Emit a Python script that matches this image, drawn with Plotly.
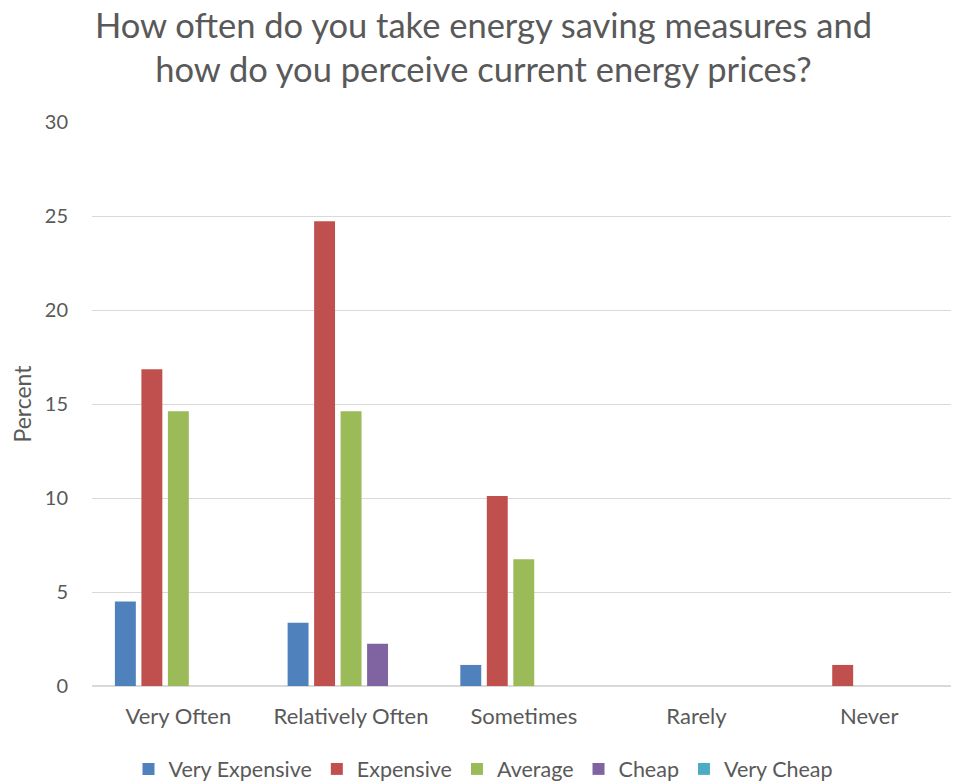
import plotly.graph_objects as go

categories = ['Very Often', 'Relatively Often', 'Sometimes', 'Rarely', 'Never']
very_expensive = [4.49, 3.37, 1.12, 0, 0]
expensive = [16.85, 24.72, 10.11, 0, 1.12]
average = [14.61, 14.61, 6.74, 0, 0]
cheap = [0, 2.25, 0, 0, 0]
very_cheap = [0, 0, 0, 0, 0]

series = [
    ('Very Expensive', very_expensive, '#4F81BD'),
    ('Expensive', expensive, '#C0504D'),
    ('Average', average, '#9BBB59'),
    ('Cheap', cheap, '#8064A2'),
    ('Very Cheap', very_cheap, '#4BACC6'),
]

fnt = 'Lato, Liberation Sans, sans-serif'
grey = '#595959'

fig = go.Figure()
for name, vals, col in series:
    fig.add_trace(go.Bar(x=categories, y=vals, name=name,
                         marker=dict(color=col, line=dict(width=0))))

# page body has an 8px default margin, so the figure is a bit smaller
fig.update_layout(
    width=951, height=776,
    paper_bgcolor='white', plot_bgcolor='white',
    margin=dict(l=84, r=0, t=114, b=98, autoexpand=False),
    barmode='group', bargap=0.233, bargroupgap=0.21,
    font=dict(family=fnt, color=grey, size=21),
    title=dict(text='How often do you take energy saving measures and<br>how do you perceive current energy prices?',
               x=0.5, xref='container', xanchor='center', y=0.962, yanchor='middle',
               font=dict(size=34.5, color=grey, family=fnt)),
    legend=dict(orientation='h', xref='container', yref='paper',
                x=0.5, xanchor='center', y=-0.147, yanchor='middle',
                font=dict(size=21.5, color=grey), itemwidth=30, tracegroupgap=0),
    showlegend=True,
)
fig.update_xaxes(range=[-0.5, 4.52], showgrid=False, showline=True, linecolor='#D9D9D9',
                 ticks='', tickfont=dict(size=22, color=grey), ticklabelstandoff=11)
fig.update_yaxes(range=[0, 30], dtick=5, showgrid=True, gridcolor='#D9D9D9', zeroline=True,
                 zerolinecolor='#D9D9D9', ticks='', tickfont=dict(size=20, color=grey),
                 ticklabelstandoff=23,
                 title=dict(text='Percent', font=dict(size=23, color=grey), standoff=13))

fig.write_html('out.html')
